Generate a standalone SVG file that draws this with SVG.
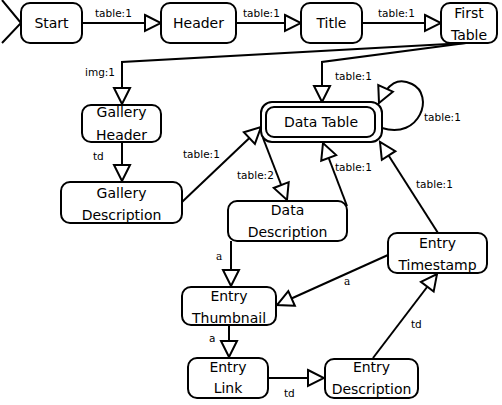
<svg xmlns="http://www.w3.org/2000/svg" width="502" height="405" viewBox="0 0 502 405">
<defs>
<style>
.n{fill:#fff;stroke:#000;stroke-width:2}
.t{font-family:"DejaVu Sans",sans-serif;font-size:14px;text-anchor:middle;fill:#000}
.l{font-family:"DejaVu Sans",sans-serif;font-size:10.5px;fill:#000}
.ls{font-family:"DejaVu Serif",serif;font-size:10.5px;fill:#000}
.c{fill:none;stroke:#000;stroke-width:2;marker-end:url(#a)}
</style>
<marker id="a" viewBox="0 0 20 20" refX="18" refY="10" markerWidth="20" markerHeight="20" markerUnits="userSpaceOnUse" orient="auto">
<path d="M2,2 L18,10 L2,18 Z" fill="#fff" stroke="#000" stroke-width="2"/>
</marker>
</defs>
<rect width="502" height="405" fill="#fff"/>
<g id="connectors">
<polyline points="2,0 21,23 2,43" fill="none" stroke="#000" stroke-width="2"/>
<path class="c" d="M82,23 L161,23"/>
<path class="c" d="M236,23 L301,23"/>
<path class="c" d="M362,23 L441,23"/>
<path class="c" d="M466,43 L122,62 L122,104"/>
<path class="c" d="M466,43 L322,62 L322,102"/>
<path class="c" d="M382,128 C420,140 435,95 412,84 C398,77 388,83 379,103"/>
<path class="c" d="M122,142 L122,181"/>
<path class="c" d="M182,202 L261,127"/>
<path class="c" d="M263,138 L287,200"/>
<path class="c" d="M347,206 L323,143"/>
<path class="c" d="M438,233 L380,142"/>
<path class="c" d="M231,241 L231,286"/>
<path class="c" d="M388,255 L277,305"/>
<path class="c" d="M229,325 L229,357"/>
<path class="c" d="M268,378 L324,378"/>
<path class="c" d="M373,358 L437,274"/>
<text class="l" x="95" y="17">table:1</text>
<text class="l" x="243" y="17">table:1</text>
<text class="l" x="378" y="17">table:1</text>
<text class="l" x="85" y="76">img:1</text>
<text class="l" x="335" y="80">table:1</text>
<text class="l" x="424" y="121">table:1</text>
<text class="l" x="93" y="160">td</text>
<text class="l" x="183" y="158">table:1</text>
<text class="l" x="237" y="179">table:2</text>
<text class="l" x="335" y="171">table:1</text>
<text class="l" x="416" y="188">table:1</text>
<text class="ls" x="216" y="260">a</text>
<text class="ls" x="344" y="285">a</text>
<text class="l" x="209" y="342">a</text>
<text class="l" x="284" y="397">td</text>
<text class="l" x="411" y="328">td</text>
</g>
<g id="start"><rect class="n" x="21" y="3" width="61" height="40" rx="9"/><text class="t" x="51.5" y="28">Start</text></g>
<g id="header"><rect class="n" x="161" y="3" width="75" height="40" rx="9"/><text class="t" x="198.5" y="28">Header</text></g>
<g id="title"><rect class="n" x="301" y="3" width="61" height="40" rx="9"/><text class="t" x="331.5" y="28">Title</text></g>
<g id="first-table"><rect class="n" x="441" y="3" width="56" height="40" rx="9"/><text class="t" x="469" y="18">First</text><text class="t" x="469" y="40">Table</text></g>
<g id="gallery-header"><rect class="n" x="82" y="105" width="79" height="37" rx="9"/><text class="t" x="121.5" y="117">Gallery</text><text class="t" x="121.5" y="140">Header</text></g>
<g id="gallery-description"><rect class="n" x="61" y="182" width="121" height="41" rx="9"/><text class="t" x="121.5" y="198">Gallery</text><text class="t" x="121.5" y="220">Description</text></g>
<g id="data-table"><rect class="n" x="261" y="102" width="121" height="40" rx="11"/><rect class="n" x="266" y="107" width="109" height="30" rx="8"/><text class="t" x="321" y="127">Data Table</text></g>
<g id="data-description"><rect class="n" x="228" y="201" width="119" height="40" rx="9"/><text class="t" x="287.5" y="215">Data</text><text class="t" x="287.5" y="237">Description</text></g>
<g id="entry-timestamp"><rect class="n" x="388" y="233" width="99" height="40" rx="9"/><text class="t" x="437.5" y="248">Entry</text><text class="t" x="437.5" y="270">Timestamp</text></g>
<g id="entry-thumbnail"><rect class="n" x="182" y="287" width="94" height="38" rx="9"/><text class="t" x="229" y="301">Entry</text><text class="t" x="229" y="323">Thumbnail</text></g>
<g id="entry-link"><rect class="n" x="188" y="358" width="80" height="40" rx="9"/><text class="t" x="228" y="372">Entry</text><text class="t" x="228" y="393">Link</text></g>
<g id="entry-description"><rect class="n" x="325" y="359" width="93" height="39" rx="9"/><text class="t" x="371.5" y="372">Entry</text><text class="t" x="371.5" y="394">Description</text></g>
</svg>
